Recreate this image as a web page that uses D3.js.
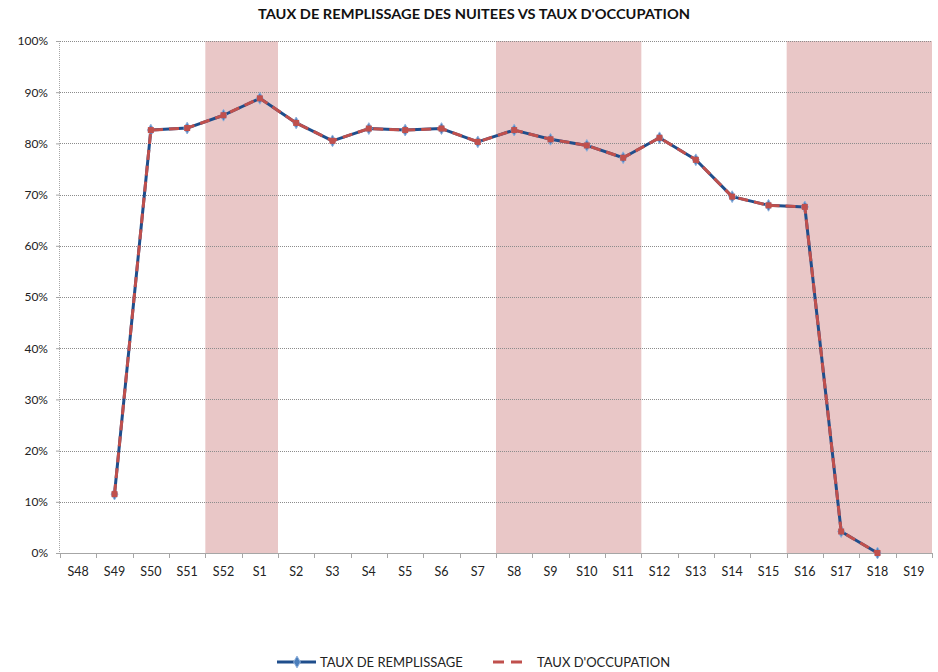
<!DOCTYPE html>
<html><head><meta charset="utf-8">
<script src="https://cdn.jsdelivr.net/npm/d3@7"></script>
<style>body{margin:0;background:#fff}svg{display:block;font-family:Lato,'Open Sans',sans-serif}</style>
</head><body>
<svg id="c" width="938" height="672"></svg>
<script>
const categories = ["S48","S49","S50","S51","S52","S1","S2","S3","S4","S5","S6","S7","S8","S9","S10","S11","S12","S13","S14","S15","S16","S17","S18","S19"];
const remplissage = [null,0.115,0.826,0.830,0.855,0.888,0.840,0.805,0.829,0.826,0.829,0.803,0.826,0.808,0.796,0.772,0.811,0.768,0.696,0.679,0.676,0.042,0.000,null];
const occupation  = [null,0.115,0.826,0.830,0.855,0.888,0.840,0.805,0.829,0.826,0.829,0.803,0.826,0.808,0.796,0.772,0.811,0.768,0.696,0.679,0.676,0.042,0.000,null];
const bands = [["S52","S1"],["S8","S11"],["S16","S19"]];
const yTicks = [0,0.1,0.2,0.3,0.4,0.5,0.6,0.7,0.8,0.9,1.0];
const title = "TAUX DE REMPLISSAGE DES NUITEES VS TAUX D'OCCUPATION";
const seriesNames = ["TAUX DE REMPLISSAGE","TAUX D'OCCUPATION"];

const svg = d3.select("#c");
const L=60,R=932,T=41,B=553;
const x = d3.scaleBand().domain(categories).range([L,R]).padding(0);
const y = d3.scaleLinear().domain([0,1]).range([B,T]);

// bands
svg.append("g").selectAll("rect").data(bands).join("rect")
  .attr("x",d=>x(d[0])).attr("width",d=>x(d[1])+x.bandwidth()-x(d[0]))
  .attr("y",y(1)).attr("height",y(0)-y(1)).attr("fill","#e9c7c7");

// grid
svg.append("g").selectAll("line").data(yTicks.filter(d=>d>0)).join("line")
  .attr("x1",L).attr("x2",R).attr("y1",d=>Math.round(y(d))+0.5).attr("y2",d=>Math.round(y(d))+0.5)
  .attr("stroke","#8c8c8c").attr("stroke-width",1).attr("stroke-dasharray","1,1");
svg.append("line").attr("x1",L-0.5).attr("x2",L-0.5).attr("y1",T).attr("y2",B)
  .attr("stroke","#a6a6a6").attr("stroke-dasharray","1,1");

// y axis
const ya = svg.append("g").attr("transform",`translate(${L},0)`)
  .call(d3.axisLeft(y).tickValues(yTicks).tickFormat(d3.format(".0%")).tickSize(4).tickPadding(8));
ya.select(".domain").remove();
ya.selectAll(".tick line").attr("stroke","#a6a6a6");
ya.selectAll("text").attr("font-size",12).attr("fill","#222").attr("font-family","Lato,'Open Sans',sans-serif");

// x axis
const xa = svg.append("g").attr("transform",`translate(0,${B})`)
  .call(d3.axisBottom(x).tickSize(0).tickPadding(14));
xa.select(".domain").attr("stroke","#a6a6a6");
xa.selectAll("text").attr("font-size",12.5).attr("fill","#222").attr("font-family","Lato,'Open Sans',sans-serif");
svg.append("g").selectAll("line").data(categories.concat(["end"])).join("line")
  .attr("x1",(d,i)=>Math.round(L+i*x.bandwidth())+0.5).attr("x2",(d,i)=>Math.round(L+i*x.bandwidth())+0.5)
  .attr("y1",B).attr("y2",B+5).attr("stroke","#a6a6a6");

const cx = d=>x(d)+x.bandwidth()/2;
const line = arr => d3.line().defined((d,i)=>arr[i]!=null).x((d,i)=>cx(categories[i])).y((d,i)=>y(arr[i]))(categories);

// blue series
svg.append("path").attr("d",line(remplissage)).attr("fill","none").attr("stroke","#1f4e8c").attr("stroke-width",3).attr("stroke-linejoin","round");
const diamond = d3.symbol().type(d3.symbolDiamond).size(40);
svg.append("g").selectAll("path").data(categories.filter((c,i)=>remplissage[i]!=null)).join("path")
  .attr("d",diamond).attr("transform",d=>`translate(${cx(d)},${y(remplissage[categories.indexOf(d)])})`)
  .attr("fill","#4a7ebb").attr("stroke","#8fb0dc").attr("stroke-width",1);

// red series
svg.append("path").attr("d",line(occupation)).attr("fill","none").attr("stroke","#c0504d").attr("stroke-width",3).attr("stroke-dasharray","10,6");
svg.append("g").selectAll("rect").data(categories.filter((c,i)=>occupation[i]!=null)).join("rect")
  .attr("x",d=>cx(d)-3).attr("y",d=>y(occupation[categories.indexOf(d)])-3).attr("width",6).attr("height",6)
  .attr("fill","#c0504d");

// title
svg.append("text").attr("x",474).attr("y",19).attr("text-anchor","middle").attr("font-weight","bold")
  .attr("font-size",13.5).attr("textLength",432).attr("lengthAdjust","spacingAndGlyphs")
  .attr("fill","#111").text(title);

// legend
const lg = svg.append("g");
lg.append("line").attr("x1",277).attr("x2",316).attr("y1",662).attr("y2",662).attr("stroke","#1f4e8c").attr("stroke-width",3);
lg.append("path").attr("d",diamond).attr("transform","translate(297,662)").attr("fill","#4a7ebb").attr("stroke","#8fb0dc");
lg.append("text").attr("x",320).attr("y",667).attr("font-size",13).attr("fill","#222").text(seriesNames[0]);
lg.append("line").attr("x1",493).attr("x2",525).attr("y1",662).attr("y2",662).attr("stroke","#c0504d").attr("stroke-width",3).attr("stroke-dasharray","11,7");
lg.append("text").attr("x",537).attr("y",667).attr("font-size",13).attr("fill","#222").text(seriesNames[1]);
</script>
</body></html>
